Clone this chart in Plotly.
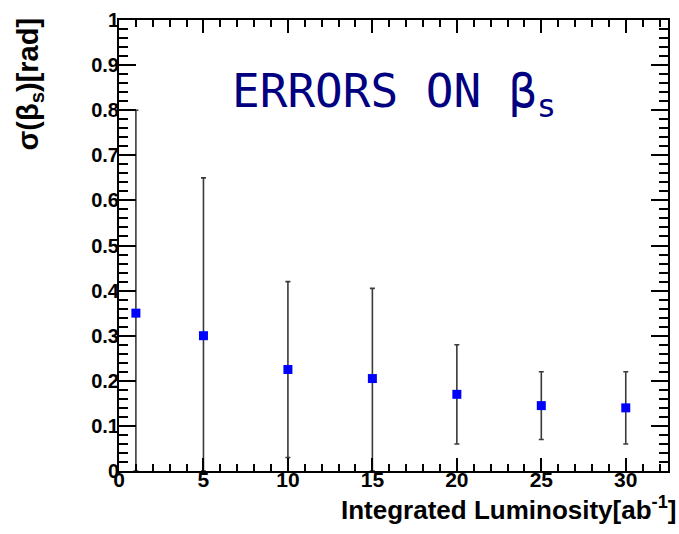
import plotly.graph_objects as go

# Data
luminosity = [1, 5, 10, 15, 20, 25, 30]
sigma_beta = [0.35, 0.30, 0.225, 0.205, 0.17, 0.145, 0.14]
upper_bound = [0.80, 0.65, 0.42, 0.405, 0.28, 0.22, 0.22]
lower_bound = [0.0, 0.0, 0.03, 0.0, 0.06, 0.07, 0.06]
x_ticks = [0, 5, 10, 15, 20, 25, 30]
y_ticks = [0, 0.1, 0.2, 0.3, 0.4, 0.5, 0.6, 0.7, 0.8, 0.9, 1]
y_tick_labels = ["0", "0.1", "0.2", "0.3", "0.4", "0.5", "0.6", "0.7", "0.8", "0.9", "1"]

err_plus = [u - v for u, v in zip(upper_bound, sigma_beta)]
err_minus = [v - l for v, l in zip(sigma_beta, lower_bound)]

fig = go.Figure()
fig.add_trace(go.Scatter(
    x=luminosity, y=sigma_beta, mode="markers",
    marker=dict(symbol="square", size=9, color="#0000ff"),
    error_y=dict(type="data", symmetric=False, array=err_plus, arrayminus=err_minus,
                 color="#3a3a3a", thickness=1.6, width=2.5),
    showlegend=False,
))

fig.update_layout(
    width=679, height=534,
    margin=dict(l=119, r=9, t=13, b=63),
    paper_bgcolor="white", plot_bgcolor="white",
    font=dict(family="Liberation Sans, Arial, sans-serif", color="black"),
)

fig.update_xaxes(
    range=[0, 32.5], tickvals=x_ticks, ticktext=[str(v) for v in x_ticks],
    ticks="inside", ticklen=13, tickwidth=1.5, tickcolor="black",
    minor=dict(ticks="inside", dtick=1, ticklen=7, tickwidth=1.5, tickcolor="black"),
    showline=True, linecolor="black", linewidth=2, mirror="ticks",
    showgrid=False, zeroline=False, ticklabelstandoff=-11,
    tickfont=dict(size=21, weight="bold", family="Liberation Sans, Arial"),
)
fig.update_yaxes(
    range=[0, 1], tickvals=y_ticks, ticktext=y_tick_labels,
    ticks="inside", ticklen=17, tickwidth=1.5, tickcolor="black",
    minor=dict(ticks="inside", dtick=0.02, ticklen=9, tickwidth=1.5, tickcolor="black"),
    showline=True, linecolor="black", linewidth=2, mirror="ticks",
    showgrid=False, zeroline=False, ticklabelstandoff=-6,
    tickfont=dict(size=20, weight="bold", family="Liberation Sans, Arial"),
)

# Axis titles (ROOT style: aligned to the end of the axis)
fig.add_annotation(
    text="Integrated Luminosity[ab<sup>-1</sup>]",
    xref="paper", yref="paper", x=1, y=0, xanchor="right", yanchor="top",
    xshift=10, yshift=-19, showarrow=False,
    font=dict(size=26, weight="bold", family="Liberation Sans, Arial"),
)
fig.add_annotation(
    text="σ(β<sub>s</sub>)[rad]",
    xref="paper", yref="paper", x=0, y=1, xanchor="center", yanchor="top",
    xshift=-90, yshift=4, textangle=-90, showarrow=False,
    font=dict(size=29, weight="bold", family="Liberation Sans, Arial"),
)

# In-plot title
fig.add_annotation(
    text="ERRORS ON β<sub>s</sub>",
    xref="paper", yref="paper", x=0.2015, y=0.835, xanchor="left", yanchor="middle",
    showarrow=False,
    font=dict(size=46, color="#000080", family="DejaVu Sans Mono, monospace"),
)

fig.write_html("out.html")
